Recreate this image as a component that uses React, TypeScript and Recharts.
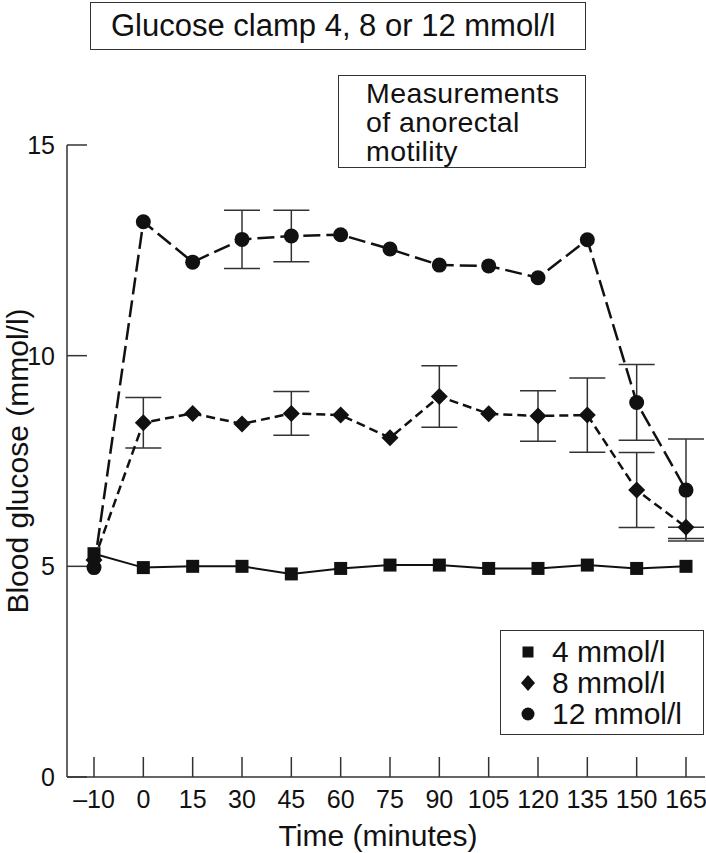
import { LineChart, Line, XAxis, YAxis, ErrorBar, Legend } from "recharts";

const TIMES = ["–10", "0", "15", "30", "45", "60", "75", "90", "105", "120", "135", "150", "165"];
const CLAMP_4 = [5.3, 4.97, 5.0, 5.0, 4.82, 4.95, 5.03, 5.03, 4.95, 4.95, 5.03, 4.95, 5.0];
const CLAMP_8 = [5.15, 8.41, 8.63, 8.38, 8.63, 8.59, 8.05, 9.03, 8.62, 8.57, 8.59, 6.81, 5.93];
const CLAMP_8_ERR = [null, 0.6, null, null, 0.52, null, null, 0.73, null, 0.6, 0.88, 0.89, [0.27, 0]];
const CLAMP_12 = [4.97, 13.18, 12.22, 12.76, 12.84, 12.87, 12.53, 12.15, 12.13, 11.85, 12.75, 8.89, 6.81];
const CLAMP_12_ERR = [null, null, null, 0.69, 0.61, null, null, null, null, null, null, 0.9, 1.21];
const Y_TICKS = [0, 5, 10, 15];
const LEGEND_ORDER = ["c4", "c8", "c12"];

const data = TIMES.map((t, i) => ({
  t,
  c4: CLAMP_4[i],
  c8: CLAMP_8[i],
  e8: CLAMP_8_ERR[i],
  c12: CLAMP_12[i],
  e12: CLAMP_12_ERR[i],
}));

const FONT = '"Liberation Sans", Arial, Helvetica, sans-serif';
const INK = "#111";
const AXIS = "#333";

const SquareDot = (p: any) =>
  p.cx == null ? null : (
    <rect key={`s${p.index}`} x={p.cx - 6.5} y={p.cy - 6.5} width={13} height={13} fill={INK} />
  );

const DiamondDot = (p: any) =>
  p.cx == null ? null : (
    <polygon
      key={`d${p.index}`}
      points={`${p.cx},${p.cy - 8.5} ${p.cx + 8.5},${p.cy} ${p.cx},${p.cy + 8.5} ${p.cx - 8.5},${p.cy}`}
      fill={INK}
    />
  );

const CircleDot = (p: any) =>
  p.cx == null ? null : <circle key={`c${p.index}`} cx={p.cx} cy={p.cy} r={7.5} fill={INK} />;

const TICK_MARGIN = 12;

function YTick(props: any) {
  const { x, y, payload } = props;
  const axisX = x + TICK_MARGIN;
  return (
    <g>
      <line x1={axisX} x2={axisX + 20} y1={y} y2={y} stroke={AXIS} strokeWidth={1.5} />
      <text x={x} y={y} textAnchor="end" dominantBaseline="central" fontSize={25} fill={INK} fontFamily={FONT}>
        {payload.value}
      </text>
    </g>
  );
}

function XTick(props: any) {
  const { x, y, payload } = props;
  const axisY = y - TICK_MARGIN;
  return (
    <g>
      <line x1={x} x2={x} y1={axisY} y2={axisY - 20} stroke={AXIS} strokeWidth={1.5} />
      <text x={x} y={axisY + 22} textAnchor="middle" dominantBaseline="central" fontSize={25} fill={INK} fontFamily={FONT}>
        {payload.value}
      </text>
    </g>
  );
}

const LEGEND_MARKS: Record<string, (cx: number, cy: number) => any> = {
  c4: (cx, cy) => <rect x={cx - 5.5} y={cy - 5.5} width={11} height={11} fill={INK} />,
  c8: (cx, cy) => <polygon points={`${cx},${cy - 8} ${cx + 7},${cy} ${cx},${cy + 8} ${cx - 7},${cy}`} fill={INK} />,
  c12: (cx, cy) => <circle cx={cx} cy={cy} r={6.5} fill={INK} />,
};

function LegendBox(props: any) {
  const items = [...(props.payload || [])].sort(
    (a: any, b: any) => LEGEND_ORDER.indexOf(a.dataKey) - LEGEND_ORDER.indexOf(b.dataKey)
  );
  return (
    <div
      style={{
        boxSizing: "border-box",
        width: 204,
        height: 105,
        border: `1.5px solid ${AXIS}`,
        background: "#fff",
        padding: "5px 0 0 16px",
        fontFamily: FONT,
        fontSize: 30,
        color: INK,
      }}
    >
      {items.map((item: any) => (
        <div key={item.dataKey} style={{ display: "flex", alignItems: "center", height: 31 }}>
          <svg width={22} height={22} style={{ marginRight: 13 }}>
            {LEGEND_MARKS[item.dataKey](11, 11)}
          </svg>
          <span>{item.value}</span>
        </div>
      ))}
    </div>
  );
}

export default function App() {
  return (
    <div style={{ position: "absolute", left: 0, top: 0, width: 706, height: 853, background: "#fff", fontFamily: FONT }}>
      <div
        style={{
          position: "absolute",
          left: 90,
          top: 2,
          width: 496,
          height: 48,
          boxSizing: "border-box",
          border: `1.5px solid ${AXIS}`,
          paddingLeft: 20,
          fontSize: 31,
          lineHeight: "45px",
          color: INK,
          zIndex: 2,
        }}
      >
        Glucose clamp 4, 8 or 12 mmol/l
      </div>
      <div
        style={{
          position: "absolute",
          left: 338,
          top: 75,
          width: 248,
          height: 93,
          boxSizing: "border-box",
          border: `1.5px solid ${AXIS}`,
          padding: "3px 0 0 27px",
          fontSize: 28.5,
          letterSpacing: 0.4,
          lineHeight: "29px",
          color: INK,
          background: "#fff",
          zIndex: 2,
        }}
      >
        Measurements
        <br />
        of anorectal
        <br />
        motility
      </div>
      <LineChart width={706} height={853} data={data} margin={{ top: 145, right: 1, left: 0, bottom: 0 }}>
        <XAxis
          dataKey="t"
          type="category"
          interval={0}
          height={76}
          padding={{ left: 27, right: 19 }}
          axisLine={{ stroke: AXIS, strokeWidth: 1.5 }}
          tickLine={false}
          tickSize={0}
          tickMargin={TICK_MARGIN}
          tick={XTick}
          label={(p: any) => {
            const vb = p.viewBox || {};
            const cx = 378;
            const cy = (vb.y ?? 777) + 58;
            return (
              <text x={cx} y={cy} textAnchor="middle" dominantBaseline="central" fontSize={30} fill={INK} fontFamily={FONT}>
                Time (minutes)
              </text>
            );
          }}
        />
        <YAxis
          type="number"
          domain={[0, 15]}
          ticks={Y_TICKS}
          width={67}
          axisLine={{ stroke: AXIS, strokeWidth: 1.5 }}
          tickLine={false}
          tickSize={0}
          tickMargin={TICK_MARGIN}
          tick={YTick}
          label={(p: any) => {
            const vb = p.viewBox || {};
            const cx = 17;
            const cy = (vb.y ?? 145) + (vb.height ?? 632) / 2;
            return (
              <text
                x={cx}
                y={cy}
                transform={`rotate(-90 ${cx} ${cy})`}
                textAnchor="middle"
                dominantBaseline="central"
                fontSize={30}
                fill={INK}
                fontFamily={FONT}
              >
                Blood glucose (mmol/l)
              </text>
            );
          }}
        />
        <Legend
          layout="vertical"
          align="center"
          verticalAlign="middle"
          content={LegendBox}
          wrapperStyle={{ left: 500, top: 630, width: 204, height: 105 }}
        />
        <Line
          dataKey="c4"
          name="4 mmol/l"
          stroke={INK}
          strokeWidth={2}
          dot={SquareDot}
          activeDot={false}
          isAnimationActive={false}
        />
        <Line
          dataKey="c8"
          name="8 mmol/l"
          stroke={INK}
          strokeWidth={2.5}
          strokeDasharray="9 5"
          dot={DiamondDot}
          activeDot={false}
          isAnimationActive={false}
        >
          <ErrorBar dataKey="e8" width={18} stroke={AXIS} strokeWidth={1.5} direction="y" />
        </Line>
        <Line
          dataKey="c12"
          name="12 mmol/l"
          stroke={INK}
          strokeWidth={2.5}
          strokeDasharray="17 6"
          dot={CircleDot}
          activeDot={false}
          isAnimationActive={false}
        >
          <ErrorBar dataKey="e12" width={18} stroke={AXIS} strokeWidth={1.5} direction="y" />
        </Line>
      </LineChart>
    </div>
  );
}
